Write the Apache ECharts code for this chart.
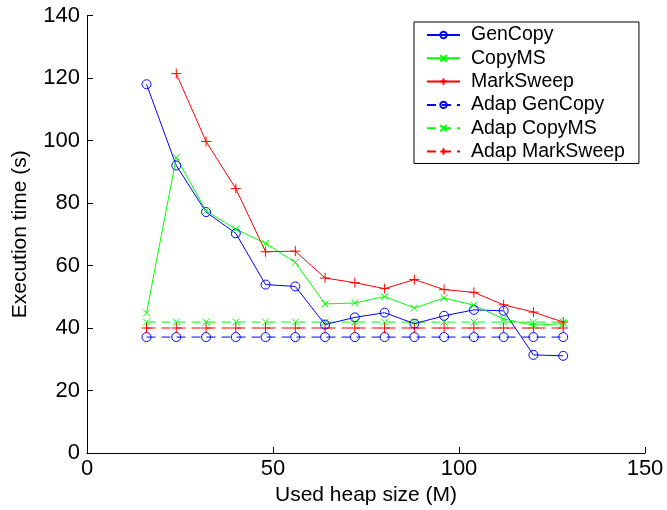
<!DOCTYPE html>
<html><head><meta charset="utf-8">
<script src="https://cdn.jsdelivr.net/npm/echarts@6/dist/echarts.min.js"></script>
<style>html,body{margin:0;padding:0;background:#fff}#c{width:667px;height:510px}</style>
</head><body><div id="c"></div>
<script>
const heap = [16,24,32,40,48,56,64,72,80,88,96,104,112,120,128];
const genCopy = [118,92,77.1,70.3,53.9,53.3,41.1,43.4,44.9,41.4,43.9,45.8,45.5,31.4,31.1];
const copyMS = [44.8,94.6,77.5,71.6,67.1,61.0,47.7,48.0,50.1,46.4,49.6,47.3,42.9,40.9,41.4];
const markSweep = [null,121.4,99.7,84.6,64.4,64.6,56.0,54.5,52.6,55.5,52.3,51.4,47.4,45.1,41.9];
const adapGenCopy = [37.1,37.1,37.1,37.1,37.1,37.1,37.1,37.1,37.1,37.1,37.1,37.1,37.1,37.1,37.1];
const adapCopyMS = [41.9,41.9,41.9,41.9,41.9,41.9,41.9,41.9,41.9,41.9,41.9,41.9,41.9,41.9,41.9];
const adapMarkSweep = [40,40,40,40,40,40,40,40,40,40,40,40,40,40,40];
const names = ['GenCopy','CopyMS','MarkSweep','Adap GenCopy','Adap CopyMS','Adap MarkSweep'];
const xTicks = [0,50,100,150];
const yTicks = [0,20,40,60,80,100,120,140];

const FONT = 'Liberation Sans';
const PLUS = 'path://M5,0L5,10M0,5L10,5';
const CROSS = 'path://M0,0L10,10M10,0L0,10';
function pairs(ys){ return heap.map((x,i)=> ys[i]==null ? null : [x, ys[i]]).filter(p=>p); }
function mk(name, ys, color, symbol, size, dashed){
  return {
    name, type:'line', data:pairs(ys), symbol, symbolSize:size, showSymbol:true,
    lineStyle:{color, width:1, type: dashed ? [9,6] : 'solid'},
    itemStyle:{color:'transparent', borderColor:color, borderWidth:1},
    emphasis:{disabled:true}, animation:false, z: dashed?2:3
  };
}
const chart = echarts.init(document.getElementById('c'));
chart.setOption({
  animation:false,
  grid:{left:87, right:22, top:15.5, bottom:57, containLabel:false, outerBoundsMode:'none'},
  legend:{
    orient:'vertical', left:414, top:22,
    padding:[3,14,2,12], itemGap:3.3, itemWidth:33, itemHeight:8,
    borderColor:'#000', borderWidth:1, backgroundColor:'#fff',
    textStyle:{fontFamily:FONT, fontSize:19.5, lineHeight:20, color:'#000', padding:[0,0,0,6]},
    data:names, selectedMode:false
  },
  xAxis:{
    type:'value', min:0, max:150, interval:50,
    name:'Used heap size (M)', nameLocation:'middle', nameGap:30,
    nameTextStyle:{fontFamily:FONT, fontSize:21, color:'#000'},
    axisLine:{lineStyle:{color:'#000', width:1}},
    axisTick:{inside:true, length:6, lineStyle:{color:'#000'}},
    axisLabel:{fontFamily:FONT, fontSize:22, color:'#000', margin:5, formatter:v=>String(v)},
    splitLine:{show:false}
  },
  yAxis:{
    type:'value', min:0, max:140, interval:20,
    name:'Execution time (s)', nameLocation:'middle', nameGap:56,
    nameTextStyle:{fontFamily:FONT, fontSize:21, color:'#000'},
    axisLine:{show:true, lineStyle:{color:'#000', width:1}},
    axisTick:{show:true, inside:true, length:6, lineStyle:{color:'#000'}},
    axisLabel:{fontFamily:FONT, fontSize:22, color:'#000', margin:7},
    splitLine:{show:false}
  },
  series:[
    mk(names[0], genCopy, '#0000ff', 'circle', 9, false),
    mk(names[1], copyMS, '#00ff00', CROSS, 7, false),
    mk(names[2], markSweep, '#ff0000', PLUS, 10, false),
    mk(names[3], adapGenCopy, '#0000ff', 'circle', 9, true),
    mk(names[4], adapCopyMS, '#00ff00', CROSS, 7, true),
    mk(names[5], adapMarkSweep, '#ff0000', PLUS, 10, true)
  ]
});
</script></body></html>
